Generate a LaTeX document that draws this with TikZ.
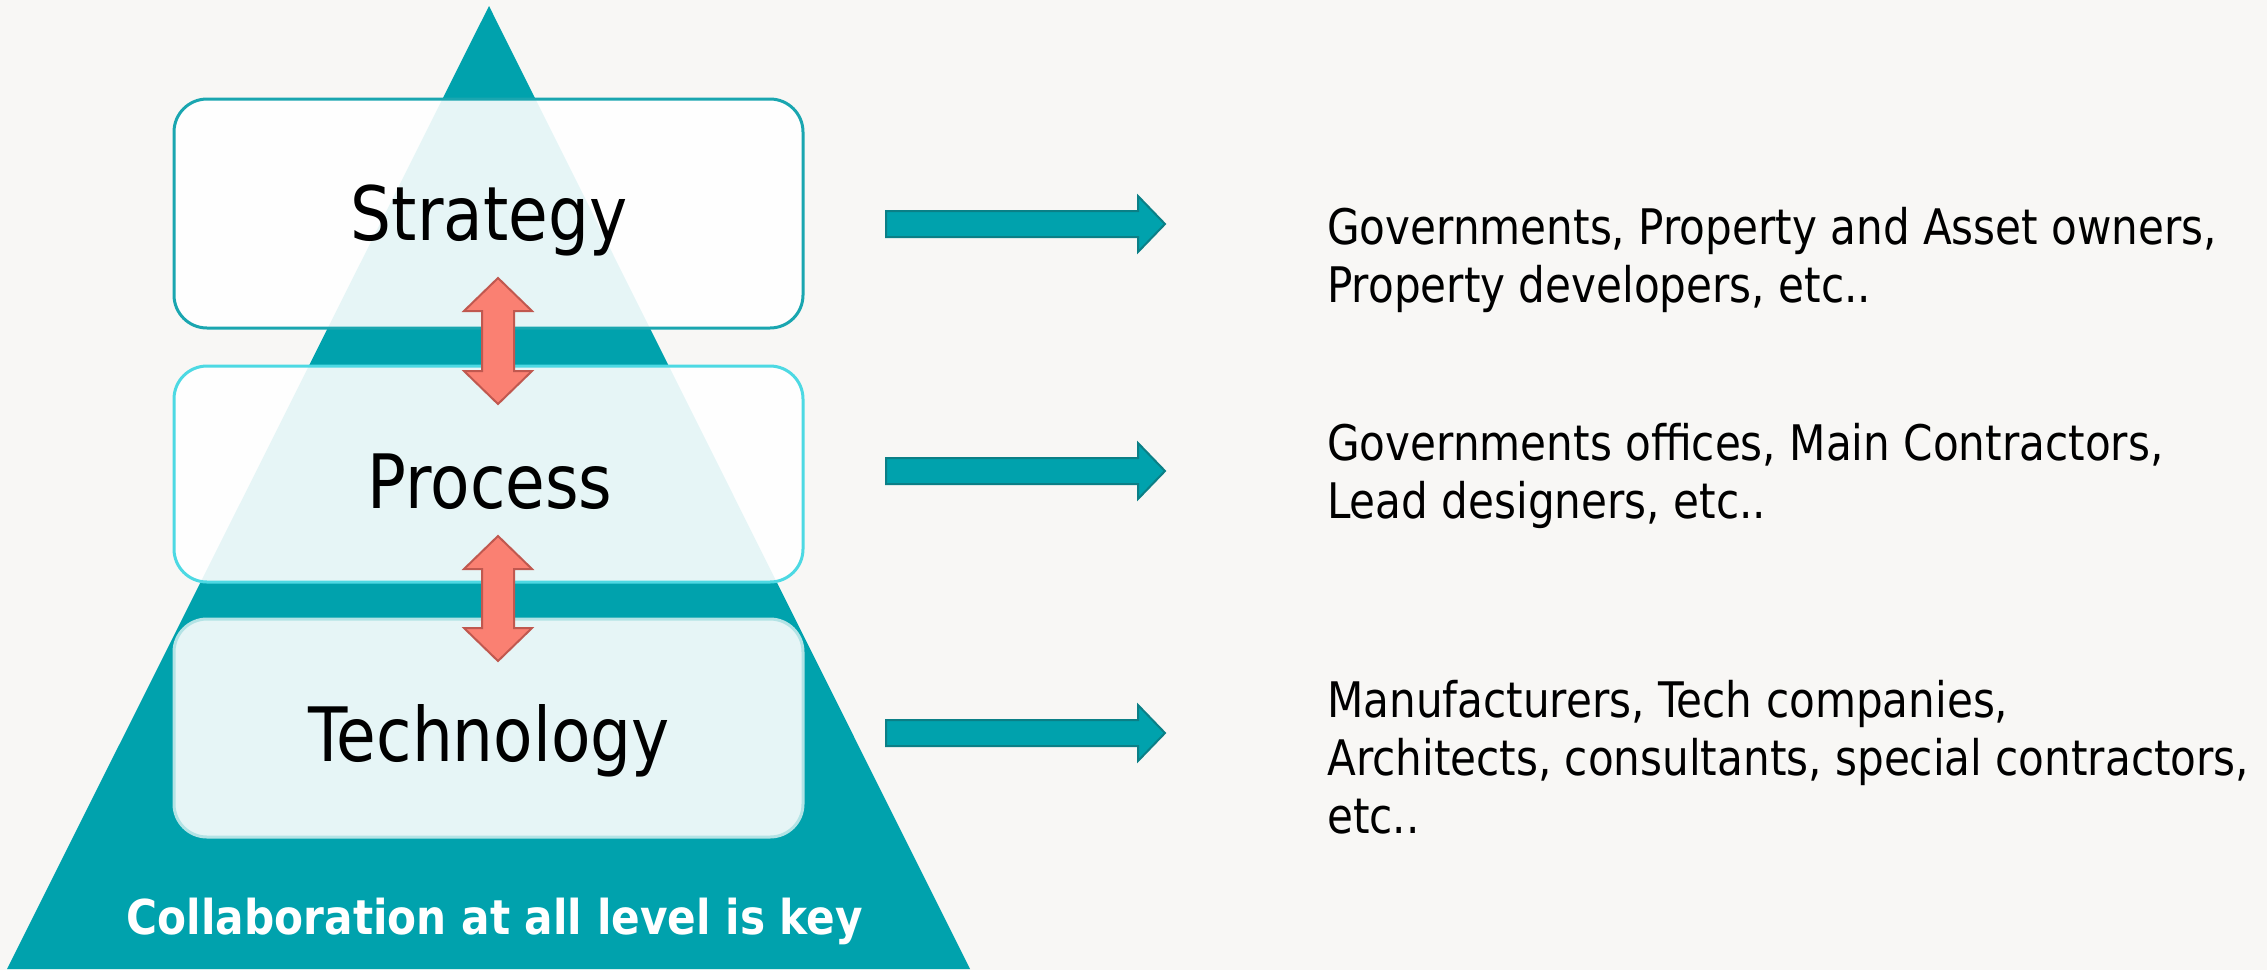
\documentclass[tikz,border=0pt]{standalone}
\usepackage{fontspec}
\setmainfont{DejaVu Sans}[FakeStretch=0.86]
\newfontfamily\descfam{DejaVu Sans}[FakeStretch=0.86]
\newfontfamily\boldfam{DejaVu Sans Bold}[FakeStretch=0.88]
\definecolor{bgc}{HTML}{F8F7F5}
\definecolor{teal1}{HTML}{00A2AD}
\definecolor{tealdark}{HTML}{0B7F86}
\definecolor{bstrat}{HTML}{1AA6B0}
\definecolor{bproc}{HTML}{4DD9E3}
\definecolor{btech}{HTML}{B3E3E5}
\definecolor{salm}{HTML}{FA8072}
\definecolor{salmdark}{HTML}{C0584F}
\tikzset{
  levelbox/.style={rounded corners=33pt, line width=3pt, fill=white, fill opacity=0.9, text opacity=1},
  levellabel/.style={font=\fontsize{75}{80}\selectfont, text=black, inner sep=0pt, anchor=base},
  rightarrow/.style={fill=teal1, draw=tealdark, line width=2pt, line join=miter},
  dblarrow/.style={fill=salm, draw=salmdark, line width=2pt, line join=miter},
  desc/.style={font=\descfam\fontsize{49}{58}\selectfont, text=black, inner sep=0pt, align=left, anchor=base west},
}
\begin{document}
\begin{tikzpicture}[x=1pt,y=-1pt]
\useasboundingbox (0,0) rectangle (2267,970);
\fill[bgc] (0,0) rectangle (2267,970);
% pyramid
\fill[teal1] (489,6) -- (970,969) -- (7,969) -- cycle;
% level boxes
\path[levelbox, draw=bstrat] (174,99) rectangle (803,328);
\path[levelbox, draw=bproc] (174,366) rectangle (803,582);
\path[levelbox, draw=btech] (174,619) rectangle (803,837);
\node[levellabel] (strat) at (489,240) {Strategy};
\node[levellabel] (proc) at (490,508) {Process};
\node[levellabel] (tech) at (489,761) {Technology};
% double arrows
\foreach \t/\b in {278/404, 536/661}{
  \path[dblarrow] (498,\t) -- (532,\t+33) -- (514,\t+33) -- (514,\b-33) -- (532,\b-33)
    -- (498,\b) -- (464,\b-33) -- (482,\b-33) -- (482,\t+33) -- (464,\t+33) -- cycle;
}
% right arrows
\foreach \c in {224, 471, 733}{
  \path[rightarrow] (886,\c-13) -- (1138,\c-13) -- (1138,\c-28) -- (1165,\c)
    -- (1138,\c+28) -- (1138,\c+13) -- (886,\c+13) -- cycle;
}
% bottom caption
\node[font=\boldfam\fontsize{48}{50}\selectfont, text=white, inner sep=0pt, anchor=base] (collab) at (495,934) {Collaboration at all level is key};
% descriptions (anchor at baseline of last line)
\node[desc] (d1) at (1327,302) {Governments, Property and Asset owners,\\Property developers, etc..};
\node[desc] (d2) at (1327,518) {Governments offices, Main Contractors,\\Lead designers, etc..};
\node[desc] (d3) at (1327,833) {Manufacturers, Tech companies,\\Architects, consultants, special contractors,\\etc..};
\end{tikzpicture}
\end{document}
